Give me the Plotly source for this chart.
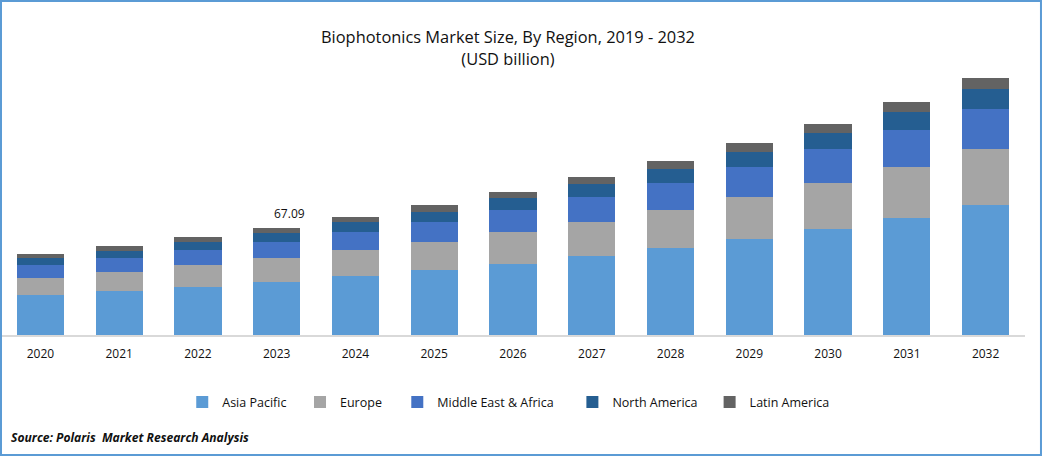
import plotly.graph_objects as go

years = ["2020","2021","2022","2023","2024","2025","2026","2027","2028","2029","2030","2031","2032"]
asia_pacific = [25.1,27.6,30.1,33.3,37.0,40.8,44.5,49.5,54.5,60.2,66.5,73.4,81.5]
europe = [10.7,11.9,13.8,15.1,16.3,17.6,20.1,21.3,23.8,26.3,28.8,32.0,35.1]
middle_east_africa = [8.2,8.8,9.4,10.1,11.3,12.5,13.8,15.7,16.9,18.8,21.3,23.2,25.1]
north_america = [4.4,4.4,5.0,5.6,6.3,6.3,7.5,8.2,8.8,9.4,10.0,11.3,12.5]
latin_america = [2.5,3.1,3.1,3.0,3.1,4.4,3.8,4.4,5.0,5.6,5.6,6.3,6.9]
series = [("Asia Pacific",asia_pacific,"#5B9BD5"),("Europe",europe,"#A5A5A5"),
          ("Middle East & Africa",middle_east_africa,"#4472C4"),
          ("North America",north_america,"#255E91"),("Latin America",latin_america,"#636363")]
title = "Biophotonics Market Size, By Region, 2019 - 2032<br>(USD billion)"
source = "Source: Polaris  Market Research Analysis"
FONT = "Open Sans"
legend_x = [0.177, 0.292, 0.387, 0.558, 0.692]

fig = go.Figure()
layout_legends = {}
for i, (name, vals, col) in enumerate(series):
    key = "legend" if i == 0 else f"legend{i+1}"
    fig.add_bar(x=years, y=vals, name=name, legend=key, marker=dict(color=col, line_width=0))
    layout_legends[key] = dict(x=legend_x[i], xanchor="left", y=-0.172, yanchor="top",
                               bgcolor="rgba(0,0,0,0)", font=dict(size=12.5))
fig.update_layout(
    barmode="stack", bargap=0.4, width=1042, height=456,
    margin=dict(l=1, r=17, t=30, b=121), paper_bgcolor="white", plot_bgcolor="white",
    font=dict(family=FONT, size=12, color="#111"),
    title=dict(text=title, x=0.4875, xanchor="center", y=0.905, yanchor="top",
               font=dict(family=FONT, size=16.4, color="#111")),
    showlegend=True,
    xaxis=dict(type="category", showline=True, linecolor="#D9D9D9", linewidth=1.5,
               ticks="", automargin=False, ticklabelstandoff=7, tickfont=dict(size=12, color="#111")),
    yaxis=dict(visible=False, range=[0, 191.2]),
    **layout_legends,
)
fig.add_annotation(x=years.index("2023"), y=67.09, text="67.09", showarrow=False, xshift=13, yshift=14,
                   font=dict(size=12, color="#111"))
fig.add_annotation(xref="paper", yref="paper", x=0.0, xshift=8, y=-0.335, yanchor="middle", xanchor="left",
                   text="<b><i>"+source+"</i></b>", showarrow=False, font=dict(size=12.1, color="#111"))
fig.add_shape(type="rect", xref="paper", yref="paper", x0=0.0, x1=1.0156, y0=-0.3934, y1=1.0951,
              line=dict(color="#5B9BD5", width=2), layer="above")
fig.write_html("out.html", config={"displayModeBar": False},
               post_script="document.body.style.margin='0';document.body.style.overflow='hidden';")
